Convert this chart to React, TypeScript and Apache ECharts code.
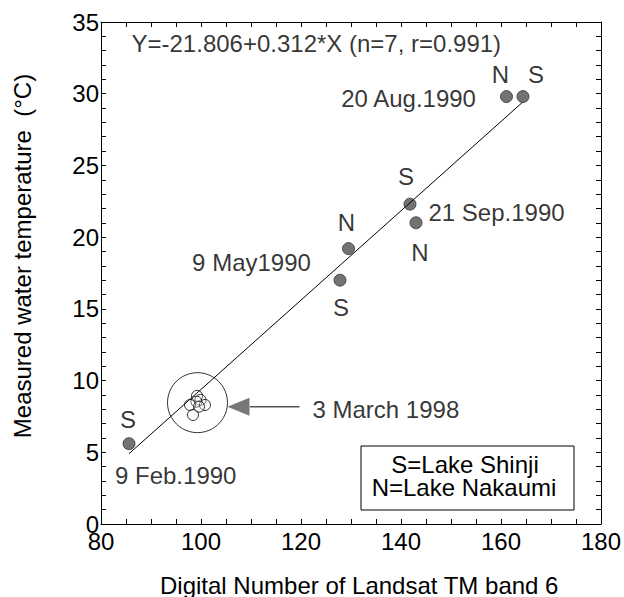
import React, { useEffect, useRef } from "react";
import * as echarts from "echarts";

// ---- data ----
const shinjiPoints: number[][] = [
  [85.6, 5.6],
  [127.8, 17.0],
  [141.8, 22.3],
  [164.4, 29.8],
];
const nakaumiPoints: number[][] = [
  [129.5, 19.2],
  [143.0, 21.0],
  [161.1, 29.8],
];
const cluster1998: number[][] = [
  [99.2, 8.93],
  [99.9, 8.65],
  [99.1, 8.53],
  [100.8, 8.3],
  [97.8, 8.3],
  [99.6, 8.18],
  [98.4, 7.6],
];
const regressionLine: number[][] = [
  [85.6, 4.9],
  [164.3, 29.4],
];
const highlightCircle: number[] = [99.3, 8.46];
const arrowShaft: number[][] = [
  [109.8, 8.18],
  [119.7, 8.18],
];
const arrowHead: number[] = [107.5, 8.18];

const annotationTexts = [
  "Y=-21.806+0.312*X (n=7, r=0.991)",
  "20 Aug.1990",
  "21 Sep.1990",
  "9 May1990",
  "9 Feb.1990",
  "3 March 1998",
];
const annotationAnchors: number[][] = [
  [86.1, 33.5],
  [155.0, 29.7],
  [145.5, 21.7],
  [110.1, 18.2],
  [82.8, 3.4],
  [122.3, 8.0],
];

const xTitle = "Digital Number of Landsat TM band 6";
const yTitle = "Measured water temperature  (°C)";
const legendLines = ["S=Lake Shinji", "N=Lake Nakaumi"];

// ---- styling (kept separate from data) ----
const FONT = "'Liberation Sans', Arial, Helvetica, sans-serif";
const FS = 24;
const shinjiLabelOffsets = [
  [-1, -24],
  [1, 27],
  [-4, -28],
  [13, -22],
];
const nakaumiLabelOffsets = [
  [-2, -26],
  [4, 30],
  [-6, -22],
];
const annotationAligns = ["left", "right", "left", "center", "left", "left"];

export default function App() {
  const ref = useRef<HTMLDivElement>(null);
  useEffect(() => {
    if (!ref.current) return;
    const chart = echarts.init(ref.current, undefined, { renderer: "svg" });

    const axisCommon = {
      type: "value",
      splitLine: { show: false },
      axisLine: { show: true, onZero: false, lineStyle: { color: "#000", width: 1 } },
      axisTick: { show: true, inside: true, length: 5, lineStyle: { color: "#000", width: 1 } },
    };

    const pointLabel = (txt: string) => ({
      show: true,
      position: "inside",
      formatter: txt,
      fontSize: FS,
      fontFamily: FONT,
      color: "#000",
    });

    const option: any = {
      animation: false,
      backgroundColor: "#fff",
      grid: { left: 101, top: 22, right: 22, bottom: 73, containLabel: false },
      xAxis: [
        {
          ...axisCommon,
          min: 80,
          max: 180,
          interval: 5,
          position: "bottom",
          axisLabel: {
            formatter: (v: number) => (v % 20 === 0 ? String(v) : ""),
            fontSize: FS,
            fontFamily: FONT,
            color: "#000",
            lineHeight: 16,
            margin: 9,
          },
        },
        {
          ...axisCommon,
          min: 80,
          max: 180,
          interval: 5,
          position: "top",
          axisLabel: { show: false },
        },
      ],
      yAxis: [
        {
          ...axisCommon,
          min: 0,
          max: 35,
          interval: 1,
          position: "left",
          axisLabel: {
            formatter: (v: number) => (v % 5 === 0 ? String(v) : ""),
            fontSize: FS,
            fontFamily: FONT,
            color: "#000",
            lineHeight: 16,
            margin: 2,
          },
        },
        {
          ...axisCommon,
          min: 0,
          max: 35,
          interval: 1,
          position: "right",
          axisLabel: { show: false },
        },
      ],
      series: [
        {
          type: "line",
          data: regressionLine,
          symbol: "none",
          silent: true,
          lineStyle: { color: "#000", width: 1 },
        },
        {
          type: "scatter",
          data: [highlightCircle],
          symbol: "circle",
          symbolSize: 60,
          silent: true,
          itemStyle: { color: "rgba(0,0,0,0)", borderColor: "#000", borderWidth: 1 },
        },
        {
          type: "scatter",
          data: cluster1998,
          symbol: "circle",
          symbolSize: 11,
          silent: true,
          itemStyle: { color: "rgba(255,255,255,0.3)", borderColor: "#000", borderWidth: 1 },
        },
        {
          type: "line",
          data: arrowShaft,
          symbol: "none",
          silent: true,
          lineStyle: { color: "#555", width: 1.5 },
        },
        {
          type: "scatter",
          data: [arrowHead],
          symbol: "triangle",
          symbolRotate: 90,
          symbolSize: [18, 22],
          silent: true,
          itemStyle: { color: "#555" },
        },
        {
          type: "scatter",
          name: "S",
          symbol: "circle",
          symbolSize: 12,
          silent: true,
          itemStyle: { color: "#505050", borderColor: "#333", borderWidth: 1 },
          data: shinjiPoints.map((p, i) => ({
            value: p,
            label: { ...pointLabel("S"), offset: shinjiLabelOffsets[i] },
          })),
        },
        {
          type: "scatter",
          name: "N",
          symbol: "circle",
          symbolSize: 12,
          silent: true,
          itemStyle: { color: "#505050", borderColor: "#333", borderWidth: 1 },
          data: nakaumiPoints.map((p, i) => ({
            value: p,
            label: { ...pointLabel("N"), offset: nakaumiLabelOffsets[i] },
          })),
        },
        {
          type: "scatter",
          symbol: "circle",
          symbolSize: 1,
          silent: true,
          itemStyle: { color: "rgba(0,0,0,0)" },
          data: annotationAnchors.map((p, i) => ({
            value: p,
            label: {
              show: true,
              position: "inside",
              formatter: annotationTexts[i],
              align: annotationAligns[i],
              verticalAlign: "middle",
              fontSize: FS,
              fontFamily: FONT,
              color: "#000",
            },
          })),
        },
      ],
      graphic: [
        {
          type: "text",
          x: 22,
          y: 256,
          rotation: Math.PI / 2,
          style: {
            text: yTitle,
            fontSize: FS,
            fontFamily: FONT,
            fill: "#000",
            align: "center",
            verticalAlign: "middle",
          },
        },
        {
          type: "text",
          x: 160,
          y: 585,
          style: {
            text: xTitle,
            fontSize: FS,
            fontFamily: FONT,
            fill: "#000",
            align: "left",
            verticalAlign: "middle",
          },
        },
        {
          type: "rect",
          shape: { x: 361, y: 446, width: 213, height: 64 },
          style: { fill: "#fff", stroke: "#000", lineWidth: 1 },
        },
        {
          type: "text",
          x: 465,
          y: 464,
          style: {
            text: legendLines[0],
            fontSize: FS,
            lineHeight: 20,
            fontFamily: FONT,
            fill: "#000",
            align: "center",
            verticalAlign: "middle",
          },
        },
        {
          type: "text",
          x: 464,
          y: 487,
          style: {
            text: legendLines[1],
            fontSize: FS,
            lineHeight: 20,
            fontFamily: FONT,
            fill: "#000",
            align: "center",
            verticalAlign: "middle",
          },
        },
      ],
    };

    chart.setOption(option);
    return () => chart.dispose();
  }, []);

  return (
    <div
      ref={ref}
      style={{ position: "fixed", left: 0, top: 0, width: 624, height: 597, background: "#fff" }}
    />
  );
}
